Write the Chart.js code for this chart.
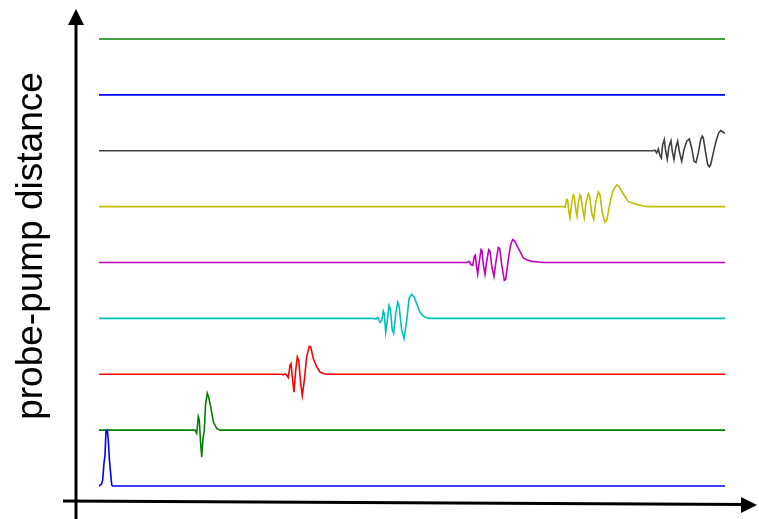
<!DOCTYPE html>
<html>
<head>
<meta charset="utf-8">
<script src="https://cdn.jsdelivr.net/npm/chart.js@4/dist/chart.umd.min.js"></script>
<style>
  html, body { margin: 0; padding: 0; background: #ffffff; }
  canvas { display: block; }
</style>
</head>
<body>
<canvas id="c" width="759" height="519"></canvas>
<script>
// Delay axis runs 0..626; each trace is drawn on its own baseline (0..8),
// displacement given in units of the baseline spacing.
const xRange = [0, 626];
const yLabel = 'probe-pump distance';
const traceColors = ['#0000ff', '#008000', '#ff0000', '#00bfbf', '#bf00bf', '#bfbf00', '#404040', '#0000ff', '#008000'];

// Signal samples [delay, displacement] for each trace, bottom to top.
const trace0 = [[0, 0], [2.7, 0.04], [3.7, 0.11], [5, 0.41], [6, 0.55], [7, 0.99], [8.3, 1.0], [9.3, 0.82], [10.3, 0.5], [11.3, 0.29], [12.7, 0.02], [13.7, 0], [626, 0]];
const trace1 = [[0, 0], [96, 0], [97.7, -0.06], [99.3, 0.24], [100.3, 0.18], [101.5, -0.2], [102.7, -0.48], [104, -0.15], [105.3, 0], [106.5, 0.45], [108.3, 0.66], [109.5, 0.6], [111.7, 0.42], [114.3, 0.15], [117.7, 0.03], [121, 0], [626, 0]];
const trace2 = [[0, 0], [182.7, 0], [184.3, -0.01], [186, 0.01], [187.7, -0.02], [189.3, -0.06], [191, 0.16], [192, 0.19], [193.7, -0.11], [195, -0.32], [196.7, 0.07], [198.3, 0.31], [199.7, 0.25], [201.7, -0.17], [203.3, -0.38], [205.3, -0.11], [207.7, 0.31], [210.3, 0.5], [211.7, 0.49], [214.3, 0.28], [217.7, 0.13], [221, 0.04], [225, 0.01], [228, 0], [626, 0]];
const trace3 = [[0, 0], [273.3, 0], [277, -0.01], [278.7, 0.02], [281, -0.07], [282.7, -0.04], [284.3, 0.13], [285.3, 0.08], [286.7, -0.25], [288.3, -0.04], [290, 0.23], [291.3, 0.17], [293.3, -0.21], [294.7, -0.27], [296.7, 0.08], [298.7, 0.29], [300, 0.23], [302.7, -0.21], [305, -0.36], [307.7, -0.04], [310, 0.35], [312.7, 0.43], [315.3, 0.38], [317.7, 0.26], [321, 0.11], [324.3, 0.04], [327.7, 0.01], [331, 0], [626, 0]];
const trace4 = [[0, 0], [367.7, 0], [370.3, 0.02], [372, -0.04], [373.7, -0.05], [375.3, 0.11], [376.3, 0.13], [377.7, -0.09], [378.7, -0.21], [380.3, 0.02], [382, 0.23], [383, 0.21], [384.3, -0.04], [386, -0.21], [387.7, 0.02], [389.7, 0.23], [391, 0.2], [393, -0.09], [395, -0.25], [397, 0.02], [399.3, 0.27], [400.7, 0.25], [402.7, -0.04], [405.3, -0.32], [406.7, -0.3], [409.3, 0.05], [411.7, 0.32], [413.7, 0.41], [416, 0.38], [418.3, 0.29], [421, 0.2], [424.3, 0.08], [427.7, 0.05], [432.7, 0.02], [439.3, 0.01], [444.3, 0], [626, 0]];
const trace5 = [[0, 0], [464.3, 0], [466, -0.01], [467.7, 0.13], [468.7, 0.11], [470, -0.11], [471, -0.2], [472.7, 0.07], [474.3, 0.21], [475.3, 0.18], [476.7, -0.05], [478, -0.17], [479.3, 0.07], [481, 0.21], [482, 0.18], [483.7, -0.05], [485.3, -0.2], [487, 0.07], [489.3, 0.23], [490.7, 0.18], [492.7, -0.11], [494.7, -0.23], [496.7, 0.07], [499.3, 0.26], [501, 0.21], [503.3, -0.11], [506, -0.28], [508, -0.23], [511, 0.07], [514.3, 0.3], [517.7, 0.39], [520, 0.36], [522.7, 0.27], [526, 0.18], [529.3, 0.09], [532.7, 0.07], [537.7, 0.04], [544.3, 0.01], [549, 0], [626, 0]];
const trace6 = [[0, 0], [554.3, 0], [556, 0.01], [557.7, -0.04], [559.3, 0.03], [561, -0.09], [562.3, -0.13], [563.7, 0.11], [565.3, 0.2], [566.7, -0.01], [568.3, -0.15], [570, 0.08], [572, 0.18], [573.3, -0.01], [575, -0.16], [576.7, 0.05], [578.7, 0.17], [580.3, -0.01], [582.7, -0.19], [585, 0.02], [587.7, 0.17], [590.3, 0.21], [592.7, 0.05], [595, -0.19], [597, -0.21], [599.3, -0.04], [601.7, 0.2], [603.3, 0.26], [604.3, 0.23], [606.7, -0.04], [608.7, -0.25], [610.3, -0.29], [611.7, -0.25], [614.3, -0.04], [617, 0.17], [619.7, 0.32], [621.7, 0.36], [624.3, 0.33], [626, 0.31]];
const trace7 = [[0, 0], [626, 0]];
const trace8 = [[0, 0], [626, 0]];

const traces = [trace0, trace1, trace2, trace3, trace4, trace5, trace6, trace7, trace8];

const datasets = traces.map((t, i) => ({
  data: t.map(([x, d]) => ({ x: x, y: i + d })),
  borderColor: traceColors[i],
  borderWidth: 1.6,
  pointRadius: 0,
  tension: 0,
  fill: false
}));

// Hand-drawn arrow axes and rotated axis caption.
const arrowAxes = {
  id: 'arrowAxes',
  afterDraw(chart) {
    const ctx = chart.ctx;
    ctx.save();
    ctx.strokeStyle = '#000';
    ctx.fillStyle = '#000';
    ctx.lineWidth = 3;
    // vertical axis
    ctx.beginPath();
    ctx.moveTo(76, 519);
    ctx.lineTo(76, 22);
    ctx.stroke();
    ctx.beginPath();
    ctx.moveTo(76, 9);
    ctx.lineTo(68, 25);
    ctx.lineTo(84, 25);
    ctx.closePath();
    ctx.fill();
    // horizontal axis
    ctx.beginPath();
    ctx.moveTo(63, 501);
    ctx.lineTo(745, 504.5);
    ctx.stroke();
    ctx.beginPath();
    ctx.moveTo(757, 505);
    ctx.lineTo(741, 497);
    ctx.lineTo(741, 513);
    ctx.closePath();
    ctx.fill();
    // caption
    ctx.translate(42, 246);
    ctx.rotate(-Math.PI / 2);
    ctx.font = '37px "Liberation Sans", Arial, sans-serif';
    ctx.textAlign = 'center';
    ctx.textBaseline = 'alphabetic';
    ctx.fillText(yLabel, 0, 0);
    ctx.restore();
  }
};

new Chart(document.getElementById('c'), {
  type: 'line',
  data: { datasets: datasets },
  options: {
    responsive: false,
    animation: false,
    devicePixelRatio: 1,
    layout: { padding: { left: 99, right: 34, top: 11, bottom: 19 } },
    plugins: { legend: { display: false }, tooltip: { enabled: false } },
    scales: {
      x: { type: 'linear', min: xRange[0], max: xRange[1], display: false },
      y: { type: 'linear', min: -0.25, max: 8.5, display: false }
    }
  },
  plugins: [arrowAxes]
});
</script>
</body>
</html>
